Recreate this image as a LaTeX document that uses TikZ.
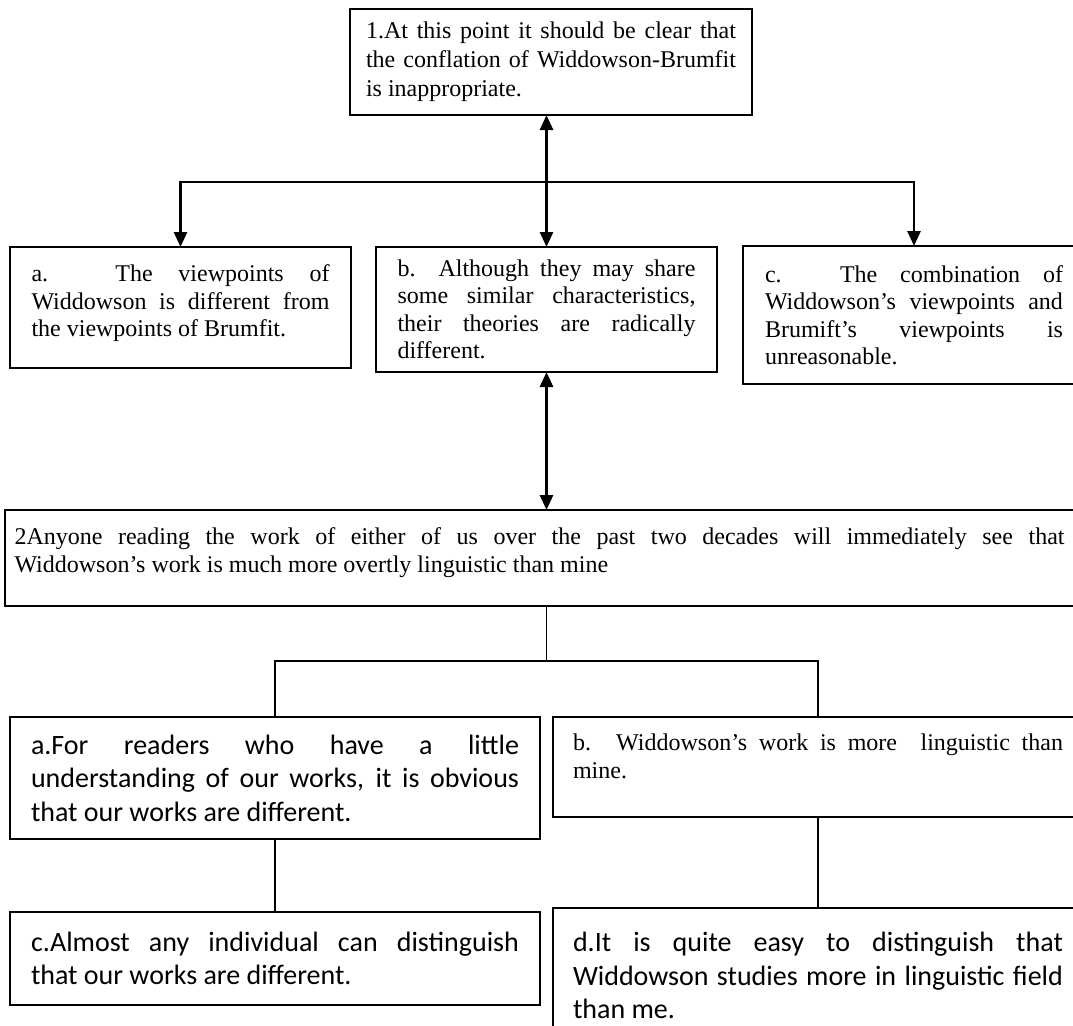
\documentclass[tikz,border=0pt]{standalone}
\usepackage{fontspec}
\setmainfont{Liberation Serif}
\newfontfamily\calibfont{Carlito}
\usetikzlibrary{arrows.meta}
\tolerance=10000
\hbadness=10000
\hyphenpenalty=10000
\newcommand\lowpad[1]{\rule[-#1]{0pt}{#1}}
\tikzset{
  box/.style={draw, line width=2pt, outer sep=0pt, inner sep=0pt, align=justify,
    font=\fontsize{24}{27.5}\selectfont},
  cbox/.style={box, font=\calibfont\fontsize{28}{33.5}\selectfont},
  tip/.tip={Triangle[width=13pt,length=15pt]},
  arr/.style={line width=2.7pt, -tip},
  darr/.style={line width=2.7pt, tip-tip},
  link/.style={line width=1.8pt},
}
\begin{document}
\begin{tikzpicture}[x=1pt,y=-1pt]
\useasboundingbox (0,0) rectangle (1073,1025);
\clip (0,0) rectangle (1073,1025);

\node[box, font=\fontsize{24}{29}\selectfont, text width=370pt, minimum width=402pt, minimum height=106pt] (top) at (551,62)
  {1.At this point it should be clear that\linebreak the conflation of Widdowson-Brumfit\linebreak is inappropriate.};

\node[box, text width=298pt, minimum width=341pt, minimum height=121pt] (ba) at (180.5,307.5)
  {a. The viewpoints of\linebreak Widdowson is different from\linebreak the viewpoints of Brumfit.\lowpad{13pt}};
\node[box, text width=298pt, minimum width=341pt, minimum height=125pt] (bb) at (546.5,309.5)
  {b. Although they may share\linebreak some similar characteristics,\linebreak their theories are radically\linebreak different.};
\node[box, text width=298pt, minimum width=342pt, minimum height=138pt] (bc) at (914,315)
  {c. The combination of\linebreak Widdowson’s viewpoints and\linebreak Brumift’s viewpoints is\linebreak unreasonable.};

\node[box, text width=1050pt, minimum width=1069pt, minimum height=96pt] (two) at (539.5,558)
  {2Anyone reading the work of either of us over the past two decades will immediately see that\linebreak Widdowson’s work is much more overtly linguistic than mine\lowpad{16pt}};

\node[cbox, text width=488pt, minimum width=530pt, minimum height=122pt] (a2) at (275,778)
  {a.For readers who have a little\linebreak understanding of our works, it is obvious\linebreak that our works are different.};
\node[box, text width=490pt, minimum width=530pt, minimum height=100pt] (b2) at (818,767)
  {b. Widdowson’s work is more\ \ linguistic than\linebreak mine.\lowpad{22pt}};

\node[cbox, text width=488pt, minimum width=530pt, minimum height=93pt] (c1) at (275,958.5)
  {c.Almost any individual can distinguish\linebreak that our works are different.};
\node[cbox, text width=490pt, minimum width=530pt, minimum height=135pt] (d1) at (818,975.5)
  {d.It is quite easy to distinguish that\linebreak Widdowson studies more in linguistic field\linebreak than me.};

\coordinate (jn) at (546.5,182);
\draw[darr] (bb.north) -- (bb.north |- top.south);
\draw[arr] (jn) -| (ba.north);
\draw[arr] (jn) -| (bc.north);
\draw[darr] (bb.south) -- (bb.south |- two.north);

\coordinate (jb) at (546.5,661);
\draw[link] (bb.south |- two.south) -- (jb);
\draw[link] (jb) -| (a2.north);
\draw[link] (jb) -| (b2.north);
\draw[link] (a2.south) -- (c1.north);
\draw[link] (b2.south) -- (d1.north);
\end{tikzpicture}
\end{document}
